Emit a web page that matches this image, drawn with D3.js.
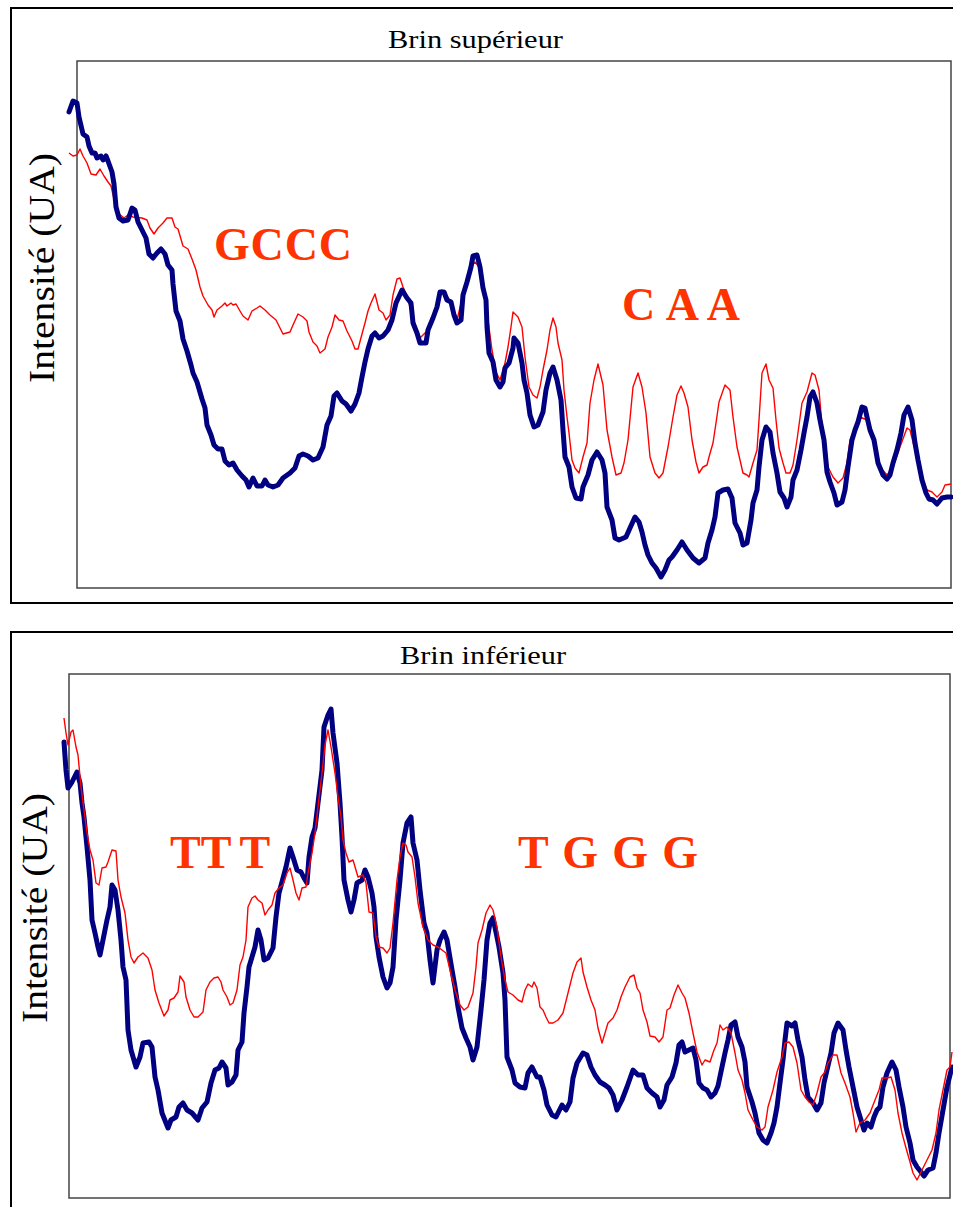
<!DOCTYPE html>
<html>
<head>
<meta charset="utf-8">
<script src="https://cdn.jsdelivr.net/npm/d3@7"></script>
<style>
  html, body { margin: 0; padding: 0; background: #fff; }
  svg { display: block; }
</style>
</head>
<body>
<script>
// ---------------- DATA (position in arbitrary units, intensity in UA) ----------------
const topBlue = [[0,476],[4,487],[8,485],[10,471],[14,454],[18,451],[20,442],[23,435],[26,435],[28,430],[32,432],[34,428],[37,432],[39,427],[43,416],[45,404],[47,381],[50,370],[54,367],[59,368],[63,380],[66,378],[69,366],[73,358],[77,350],[80,334],[84,330],[88,335],[92,339],[96,334],[99,323],[103,318],[104,304],[107,277],[111,267],[114,249],[118,237],[122,223],[124,215],[128,206],[133,189],[136,180],[138,163],[142,153],[145,143],[149,139],[153,139],[156,127],[160,123],[164,125],[168,118],[173,112],[177,108],[180,101],[184,110],[188,102],[193,102],[196,108],[199,103],[204,101],[209,103],[214,110],[221,115],[226,120],[230,132],[234,134],[239,132],[244,128],[249,130],[254,141],[258,163],[262,172],[265,192],[268,195],[273,187],[277,184],[282,177],[286,184],[290,195],[293,211],[296,226],[299,239],[303,252],[306,255],[310,250],[314,252],[319,258],[323,268],[327,285],[333,298],[338,290],[342,285],[344,265],[348,255],[351,245],[357,245],[359,258],[364,270],[368,281],[371,296],[375,296],[378,288],[382,286],[385,273],[388,265],[392,268],[394,293],[398,306],[402,321],[404,332],[408,333],[411,321],[414,300],[417,288],[418,261],[420,235],[424,226],[427,208],[431,201],[434,206],[436,220],[440,225],[444,240],[445,250],[449,245],[453,225],[455,208],[458,195],[461,173],[465,161],[469,163],[474,176],[477,198],[481,215],[484,221],[488,208],[492,188],[494,158],[496,131],[500,121],[503,101],[507,90],[512,89],[514,101],[519,113],[523,128],[528,136],[533,128],[536,115],[538,81],[543,68],[546,50],[550,48],[557,51],[561,60],[566,71],[570,66],[573,56],[576,43],[579,33],[583,25],[587,20],[592,11],[596,18],[600,28],[603,31],[608,38],[613,46],[618,38],[624,30],[630,25],[636,30],[639,45],[643,58],[646,71],[649,95],[654,98],[659,99],[663,90],[666,65],[671,55],[674,43],[678,45],[682,68],[684,85],[688,98],[690,121],[693,148],[697,161],[701,156],[704,135],[708,115],[711,96],[715,90],[718,81],[722,91],[724,108],[728,118],[732,138],[735,155],[738,171],[741,191],[744,196],[748,185],[751,168],[755,148],[758,116],[761,106],[765,95],[768,83],[773,86],[776,98],[779,121],[783,148],[786,158],[789,166],[793,181],[796,180],[798,171],[801,158],[805,148],[809,125],[814,113],[818,109],[821,113],[824,125],[828,138],[832,155],[835,173],[839,181],[843,168],[846,145],[849,128],[853,108],[857,95],[860,89],[864,88],[868,84],[873,90],[878,91],[882,91]];

const topRed = [[0,435],[4,432],[8,433],[11,439],[14,432],[18,425],[22,414],[27,413],[31,419],[35,412],[39,406],[42,402],[45,389],[49,375],[55,370],[59,373],[64,371],[73,370],[78,368],[81,360],[85,354],[89,360],[94,365],[98,370],[103,370],[106,361],[109,359],[114,342],[119,339],[123,329],[127,318],[131,301],[134,292],[139,283],[143,278],[145,271],[148,278],[153,282],[156,285],[158,282],[162,285],[164,283],[167,284],[171,277],[174,272],[179,268],[183,277],[188,280],[191,282],[196,278],[201,273],[207,268],[211,260],[214,254],[221,256],[224,263],[229,274],[234,271],[238,267],[240,256],[244,246],[248,242],[251,235],[256,239],[259,251],[263,261],[266,273],[270,268],[274,267],[278,257],[283,247],[286,239],[289,239],[293,254],[296,265],[299,277],[302,285],[306,294],[310,278],[314,275],[317,268],[321,273],[324,293],[328,309],[331,310],[334,301],[338,292],[344,270],[351,250],[359,258],[368,283],[373,298],[381,288],[388,268],[394,293],[401,320],[406,326],[411,320],[416,298],[419,268],[423,238],[427,216],[431,208],[436,225],[439,241],[442,261],[444,276],[449,271],[453,261],[456,231],[460,201],[464,193],[468,190],[471,201],[474,218],[478,238],[481,258],[484,270],[487,261],[489,245],[493,228],[495,198],[498,171],[500,155],[503,128],[506,120],[510,115],[514,131],[518,145],[521,185],[525,208],[529,224],[534,203],[538,158],[543,131],[547,113],[552,115],[555,125],[559,148],[564,201],[569,215],[573,201],[577,175],[581,131],[586,115],[590,110],[594,115],[599,141],[604,171],[608,193],[612,202],[615,195],[619,181],[623,148],[627,126],[630,115],[634,121],[638,123],[640,131],[644,145],[647,165],[650,186],[656,203],[661,198],[664,171],[668,141],[674,115],[678,113],[680,111],[684,125],[688,138],[690,168],[693,215],[697,224],[700,208],[704,200],[707,168],[710,140],[714,125],[717,115],[721,115],[724,123],[728,148],[733,185],[738,196],[743,215],[746,213],[750,198],[754,151],[759,121],[764,111],[769,105],[774,110],[778,125],[781,148],[791,171],[798,168],[804,151],[811,121],[818,113],[824,121],[831,141],[838,160],[841,158],[846,138],[851,115],[858,98],[863,96],[868,91],[873,96],[876,103],[882,104]];

const bottomBlue = [[0,456],[2,428],[4,410],[8,416],[13,426],[16,415],[18,395],[20,381],[23,351],[26,318],[28,278],[31,265],[34,251],[36,243],[39,258],[43,278],[46,291],[48,313],[51,308],[54,288],[57,258],[59,231],[62,218],[64,168],[67,148],[72,131],[76,141],[79,155],[85,156],[88,151],[91,121],[94,108],[98,85],[104,70],[107,78],[112,81],[115,91],[119,95],[123,88],[128,85],[134,78],[138,90],[143,96],[147,115],[151,128],[155,130],[158,136],[162,130],[164,113],[168,116],[172,123],[174,148],[178,156],[180,185],[183,211],[185,231],[188,241],[191,251],[194,268],[197,258],[200,238],[204,240],[209,250],[212,281],[215,305],[218,316],[222,331],[226,350],[229,341],[233,328],[237,326],[240,320],[243,315],[245,341],[248,361],[251,370],[254,395],[258,428],[260,471],[264,483],[267,489],[269,465],[273,435],[276,395],[278,361],[280,318],[284,298],[287,286],[290,298],[293,315],[298,318],[301,328],[304,321],[308,305],[310,291],[312,261],[315,241],[319,221],[323,210],[326,215],[329,231],[332,278],[336,318],[339,355],[343,375],[347,381],[349,355],[353,338],[356,308],[360,275],[363,265],[366,238],[369,215],[373,248],[376,258],[380,266],[383,258],[388,228],[391,211],[394,191],[398,170],[402,160],[406,151],[409,138],[413,151],[417,188],[420,218],[423,258],[426,275],[429,280],[433,261],[435,251],[439,225],[441,198],[443,141],[448,128],[451,115],[456,111],[461,110],[464,125],[468,131],[473,121],[476,121],[480,108],[483,93],[488,83],[492,81],[498,93],[502,88],[506,96],[509,120],[513,135],[519,145],[523,143],[527,131],[531,123],[536,116],[541,113],[545,110],[549,103],[553,88],[558,98],[563,111],[569,128],[574,123],[579,123],[583,110],[588,105],[593,101],[596,91],[600,98],[603,113],[608,121],[612,135],[615,153],[618,156],[621,146],[625,148],[629,150],[632,138],[635,115],[639,110],[643,108],[647,101],[651,105],[654,112],[658,131],[661,145],[664,158],[667,173],[671,176],[674,161],[678,151],[681,136],[683,111],[688,96],[691,85],[695,65],[699,58],[703,55],[707,65],[710,75],[713,91],[716,115],[719,138],[721,158],[723,175],[728,172],[731,175],[734,158],[738,141],[741,118],[744,101],[749,95],[753,88],[757,95],[760,115],[763,128],[767,145],[770,165],[774,175],[779,168],[782,148],[785,131],[789,111],[793,91],[797,78],[800,68],[803,75],[807,71],[810,81],[813,88],[816,91],[819,111],[823,125],[828,136],[832,128],[835,111],[839,91],[842,71],[846,55],[849,38],[853,31],[857,26],[860,22],[864,28],[869,30],[872,45],[875,65],[879,88],[883,111],[888,131]];

const bottomRed = [[0,480],[2,465],[4,453],[7,466],[9,468],[12,451],[14,443],[17,411],[20,388],[23,365],[26,348],[29,338],[32,315],[35,313],[38,330],[42,331],[44,336],[48,348],[52,347],[54,318],[57,301],[61,285],[64,258],[67,241],[70,235],[74,241],[79,245],[84,240],[88,228],[91,208],[95,195],[100,182],[104,188],[106,198],[110,200],[114,206],[116,222],[120,216],[122,201],[126,188],[130,181],[134,181],[139,186],[142,208],[146,216],[150,220],[154,221],[157,216],[159,208],[163,201],[166,193],[169,195],[173,208],[176,233],[179,241],[182,258],[184,291],[188,300],[191,302],[194,298],[198,295],[201,283],[204,288],[208,293],[211,305],[215,310],[219,313],[223,325],[226,330],[229,318],[232,305],[235,298],[238,310],[242,311],[244,325],[248,345],[251,365],[254,391],[258,425],[261,453],[264,468],[267,451],[271,425],[274,401],[277,381],[279,358],[282,345],[285,336],[289,338],[294,321],[299,323],[302,315],[305,286],[309,285],[312,261],[315,251],[319,250],[323,245],[326,250],[329,275],[333,318],[336,341],[339,355],[342,353],[344,346],[348,341],[351,321],[354,295],[359,271],[364,258],[369,253],[374,251],[378,248],[382,245],[386,228],[391,208],[396,193],[400,188],[404,191],[409,205],[412,231],[414,255],[418,268],[422,285],[426,293],[429,288],[433,271],[437,241],[441,218],[444,206],[449,203],[454,198],[458,196],[461,208],[464,214],[468,211],[470,216],[473,210],[476,191],[479,188],[482,181],[485,175],[489,175],[494,178],[499,185],[503,201],[506,213],[509,225],[513,236],[517,240],[519,226],[523,211],[527,198],[531,188],[534,170],[538,155],[541,165],[544,175],[549,180],[553,188],[557,201],[561,211],[566,221],[570,223],[573,210],[576,205],[579,188],[583,176],[586,162],[591,161],[595,156],[599,161],[603,188],[606,190],[610,203],[614,213],[618,205],[621,200],[625,185],[629,165],[633,146],[638,133],[641,138],[646,136],[650,148],[653,155],[656,173],[659,168],[663,171],[667,165],[671,145],[674,128],[678,118],[681,105],[684,88],[689,78],[693,71],[698,68],[701,71],[704,91],[709,108],[713,126],[718,141],[721,155],[725,156],[729,151],[733,135],[737,108],[741,101],[745,96],[749,93],[753,105],[757,121],[761,126],[764,135],[769,143],[773,143],[777,125],[781,115],[786,101],[789,85],[792,66],[796,75],[801,78],[806,85],[811,98],[815,108],[818,120],[823,120],[827,121],[831,108],[834,85],[838,65],[842,50],[846,36],[849,25],[853,18],[858,28],[863,38],[868,48],[872,65],[875,88],[879,108],[883,128],[886,131],[888,146]];

const panelTitles = ["Brin supérieur", "Brin inférieur"];
const yAxisLabel = "Intensité (UA)";
// annotation text with [position, intensity] of its baseline start
const topAnnotations = [["GCCC", 145, 328], ["C A A", 553, 268]];
const bottomAnnotations = [["TTT", 106, 330], ["T G G G", 454, 330]];

// ---------------- LAYOUT ----------------
const W = 953, H = 1207;
const svg = d3.select("body").append("svg").attr("width", W).attr("height", H);

const annWidths = { "GCCC": 138, "C A A": 118, "T G G G": 180 };

const panels = [
  { outer: {x: 11, y: 8, w: 960, h: 595},
    plot: {l: 77, t: 61, r: 951, b: 588},
    xr: [69, 951], xd: [0, 882], yd: [0, 527],
    title: panelTitles[0], titleX: 475.5, titleY: 48, titleLen: 175,
    ylabX: 54, ylabY: 268,
    blue: topBlue, red: topRed, redOnTop: false, ann: topAnnotations },
  { outer: {x: 11, y: 632, w: 960, h: 600},
    plot: {l: 69, t: 674, r: 950, b: 1198},
    xr: [64, 952], xd: [0, 888], yd: [0, 524],
    title: panelTitles[1], titleX: 483, titleY: 664, titleLen: 166,
    ylabX: 47, ylabY: 908,
    blue: bottomBlue, red: bottomRed, redOnTop: true, ann: bottomAnnotations }
];

panels.forEach(p => {
  const g = svg.append("g");
  g.append("rect")
    .attr("x", p.outer.x).attr("y", p.outer.y)
    .attr("width", p.outer.w).attr("height", p.outer.h)
    .attr("fill", "none").attr("stroke", "#000").attr("stroke-width", 2);

  g.append("rect")
    .attr("x", p.plot.l).attr("y", p.plot.t)
    .attr("width", p.plot.r - p.plot.l).attr("height", p.plot.b - p.plot.t)
    .attr("fill", "none").attr("stroke", "#444").attr("stroke-width", 1.5);

  const x = d3.scaleLinear().domain(p.xd).range(p.xr);
  const y = d3.scaleLinear().domain(p.yd).range([p.plot.b, p.plot.t]);

  g.append("text")
    .attr("x", p.titleX).attr("y", p.titleY)
    .attr("text-anchor", "middle")
    .attr("font-family", "'Liberation Serif', 'Times New Roman', serif")
    .attr("font-size", 26)
    .attr("textLength", p.titleLen)
    .attr("lengthAdjust", "spacingAndGlyphs")
    .attr("fill", "#000")
    .text(p.title);

  g.append("text")
    .attr("transform", `translate(${p.ylabX},${p.ylabY}) rotate(-90)`)
    .attr("text-anchor", "middle")
    .attr("font-family", "'Liberation Serif', 'Times New Roman', serif")
    .attr("font-size", 35)
    .attr("textLength", 230)
    .attr("lengthAdjust", "spacingAndGlyphs")
    .attr("fill", "#000")
    .text(yAxisLabel);

  const line = d3.line().x(d => x(d[0])).y(d => y(d[1])).curve(d3.curveLinear);

  const drawRed = () => g.append("path").datum(p.red)
    .attr("d", line).attr("fill", "none")
    .attr("stroke", "#ff0000").attr("stroke-width", 1.4)
    .attr("stroke-linejoin", "round");
  const drawBlue = () => g.append("path").datum(p.blue)
    .attr("d", line).attr("fill", "none")
    .attr("stroke", "#000080").attr("stroke-width", 5)
    .attr("stroke-linejoin", "round").attr("stroke-linecap", "round");

  if (p.redOnTop) { drawBlue(); drawRed(); } else { drawRed(); drawBlue(); }

  p.ann.forEach(a => {
    const t = g.append("text")
      .attr("x", x(a[1])).attr("y", y(a[2]))
      .attr("font-family", "'Liberation Serif', 'Times New Roman', serif")
      .attr("font-weight", "bold")
      .attr("font-size", 46)
      .attr("fill", "#ff3300");
    if (a[0] === "TTT") {
      t.append("tspan").text("TT");
      t.append("tspan").attr("dx", 8).text("T");
    } else {
      t.attr("textLength", annWidths[a[0]]).attr("lengthAdjust", "spacing").text(a[0]);
    }
  });
});
</script>
</body>
</html>
